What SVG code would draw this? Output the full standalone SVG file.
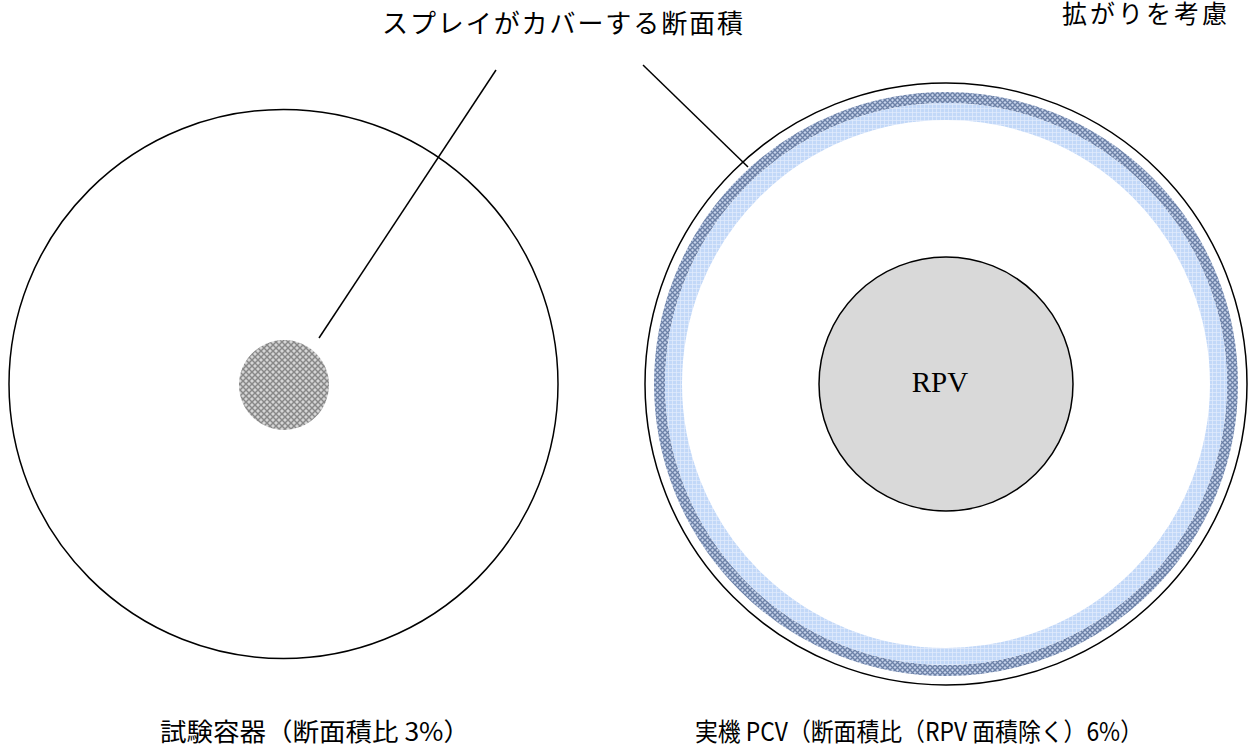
<svg xmlns="http://www.w3.org/2000/svg" width="1252" height="751" viewBox="0 0 1252 751">
<style>
.ln{stroke:#000;stroke-width:1.5}
.jp{font-family:"Noto Sans CJK JP","Noto Sans",sans-serif;font-size:25px;fill:#000}
.rpv{font-family:"Liberation Serif",serif;font-size:29px;fill:#000}
</style>
<defs>
<pattern id="pgray" width="6" height="6" patternUnits="userSpaceOnUse">
<rect width="6" height="6" fill="#bdbdbd"/>
<path d="M0 0L6 6M6 0L0 6" stroke="#858585" stroke-width="1.1"/>
<circle cx="3" cy="0" r="0.8" fill="#f4f4f4"/>
<circle cx="0" cy="3" r="0.8" fill="#f4f4f4"/>
<circle cx="6" cy="3" r="0.8" fill="#f4f4f4"/>
<circle cx="3" cy="6" r="0.8" fill="#f4f4f4"/>
</pattern>
<pattern id="pblue" width="5" height="5" patternUnits="userSpaceOnUse">
<rect width="5" height="5" fill="#aabbdb"/>
<path d="M0 0L5 5M5 0L0 5" stroke="#6a7ea3" stroke-width="1.1"/>
<circle cx="2.5" cy="0" r="0.6" fill="#eef3fc"/>
<circle cx="0" cy="2.5" r="0.6" fill="#eef3fc"/>
<circle cx="5" cy="2.5" r="0.6" fill="#eef3fc"/>
<circle cx="2.5" cy="5" r="0.6" fill="#eef3fc"/>
</pattern>
<pattern id="plight" width="4" height="4" patternUnits="userSpaceOnUse">
<rect width="4" height="4" fill="#c2d8f8"/>
<path d="M0 0.5H4M0.5 0V4" stroke="#e2ecfc" stroke-width="0.7"/>
</pattern>
</defs>
<rect width="1252" height="751" fill="#fff"/>
<g id="test-vessel">
<circle cx="283.5" cy="384" r="274.5" fill="#fff" class="ln"/>
</g>
<g id="test-spray">
<circle cx="284" cy="385" r="45" fill="url(#pgray)"/>
</g>
<g id="pcv">
<circle cx="946" cy="384" r="301" fill="#fff" class="ln"/>
<circle cx="946" cy="384" r="286.5" fill="none" stroke="url(#pblue)" stroke-width="11"/>
<circle cx="946" cy="384" r="272.5" fill="none" stroke="url(#plight)" stroke-width="17"/>
</g>
<g id="rpv">
<circle cx="946" cy="384" r="127" fill="#d9d9d9" class="ln"/>
<text x="940" y="392" text-anchor="middle" class="rpv">RPV</text>
</g>
<g id="connectors" fill="none">
<line x1="496" y1="70" x2="319" y2="338" class="ln"/>
<line x1="643" y1="65" x2="748" y2="167" class="ln"/>
</g>
<g id="labels">
<text x="382" y="33" class="jp" style="font-size:26px" textLength="361" lengthAdjust="spacing">スプレイがカバーする断面積</text>
<text x="1062" y="23" class="jp" style="font-size:25px" textLength="165" lengthAdjust="spacing">拡がりを考慮</text>
<text x="160" y="741" class="jp" textLength="310" lengthAdjust="spacingAndGlyphs">試験容器（断面積比 3%）</text>
<text x="695" y="741" class="jp" textLength="448" lengthAdjust="spacingAndGlyphs">実機 PCV（断面積比（RPV 面積除く）6%）</text>
</g>
</svg>
